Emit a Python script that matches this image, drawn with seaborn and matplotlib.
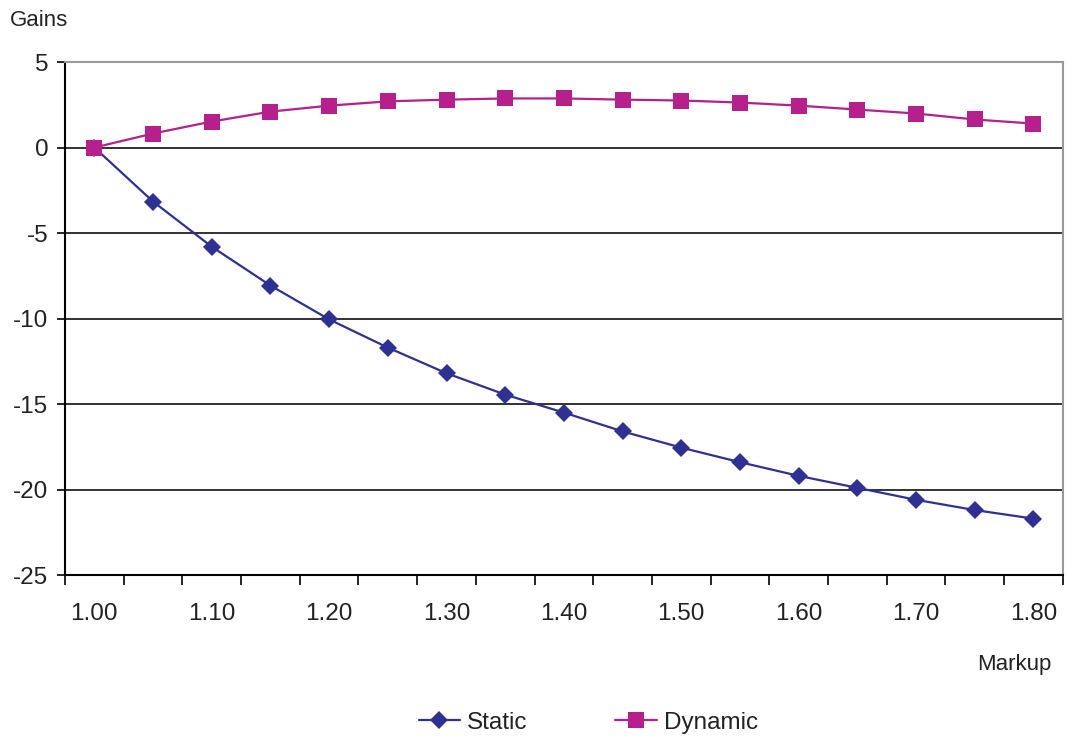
import numpy as np
import pandas as pd
import seaborn as sns
import matplotlib
matplotlib.use("Agg")
import matplotlib.pyplot as plt

markup = ["1.00", "1.05", "1.10", "1.15", "1.20", "1.25", "1.30", "1.35", "1.40",
          "1.45", "1.50", "1.55", "1.60", "1.65", "1.70", "1.75", "1.80"]

static = [0, -3.16, -5.8, -8.07, -10.05, -11.7, -13.2, -14.45, -15.5,
          -16.6, -17.55, -18.4, -19.2, -19.9, -20.6, -21.2, -21.7]

dynamic = [0, 0.82, 1.52, 2.1, 2.45, 2.7, 2.8, 2.87, 2.87,
           2.8, 2.75, 2.63, 2.45, 2.22, 1.99, 1.64, 1.4]

sns.set_theme(style="white")
plt.rcParams['font.family'] = ['Liberation Sans', 'DejaVu Sans']
plt.rcParams['axes.unicode_minus'] = False

fig = plt.figure(figsize=(10.66, 7.42), dpi=100)
ax = fig.add_axes([0.061, 0.225, 0.936, 0.6914])

df = pd.DataFrame({"Markup": markup, "Static": static, "Dynamic": dynamic})

sns.lineplot(data=df, x="Markup", y="Static", ax=ax, color="#2E3192",
             marker="D", markersize=9.5, markeredgewidth=0, linewidth=1.6,
             label="Static", sort=False)
sns.lineplot(data=df, x="Markup", y="Dynamic", ax=ax, color="#B5208C",
             marker="s", markersize=12, markeredgewidth=0, linewidth=1.6,
             label="Dynamic", sort=False)

n = len(markup)
ax.set_xlim(-0.5, n - 0.5)
ax.set_ylim(-25, 5)
ax.set_xticks(range(0, n, 2))
ax.set_xticklabels(markup[::2])
ax.set_xticks(np.arange(-0.5, n, 1), minor=True)
ax.set_yticks(range(-25, 6, 5))
ax.tick_params(axis="x", which="major", length=0, pad=20, labelsize=17.5, colors="#222222")
ax.tick_params(axis="x", which="minor", direction="out", length=7, width=1.2,
               color="black", bottom=True)
ax.tick_params(axis="y", direction="out", length=6, width=1.2, pad=6,
               labelsize=17.5, colors="#222222", left=True)
ax.tick_params(axis="y", which="major", color="black")

for yv in range(-20, 5, 5):
    ax.axhline(yv, color="#222222", linewidth=1.3, zorder=0)

for s in ["left", "bottom"]:
    ax.spines[s].set_color("black")
    ax.spines[s].set_linewidth(1.5)
for s in ["top", "right"]:
    ax.spines[s].set_color("#999999")
    ax.spines[s].set_linewidth(1.5)

ax.set_xlabel("")
ax.set_ylabel("")
fig.text(0.009, 0.972, "Gains", fontsize=16, ha="left", va="center", color="#222222")
fig.text(0.986, 0.105, "Markup", fontsize=16, ha="right", va="center", color="#222222")

ax.get_legend().remove()
handles, labels = ax.get_legend_handles_labels()
fig.legend(handles, labels, loc="center", bbox_to_anchor=(0.552, 0.026), ncol=2,
           frameon=False, fontsize=17.5, handlelength=1.7, columnspacing=3.6,
           handletextpad=0.3, labelcolor="#222222")

fig.savefig("out.png", dpi=100)
